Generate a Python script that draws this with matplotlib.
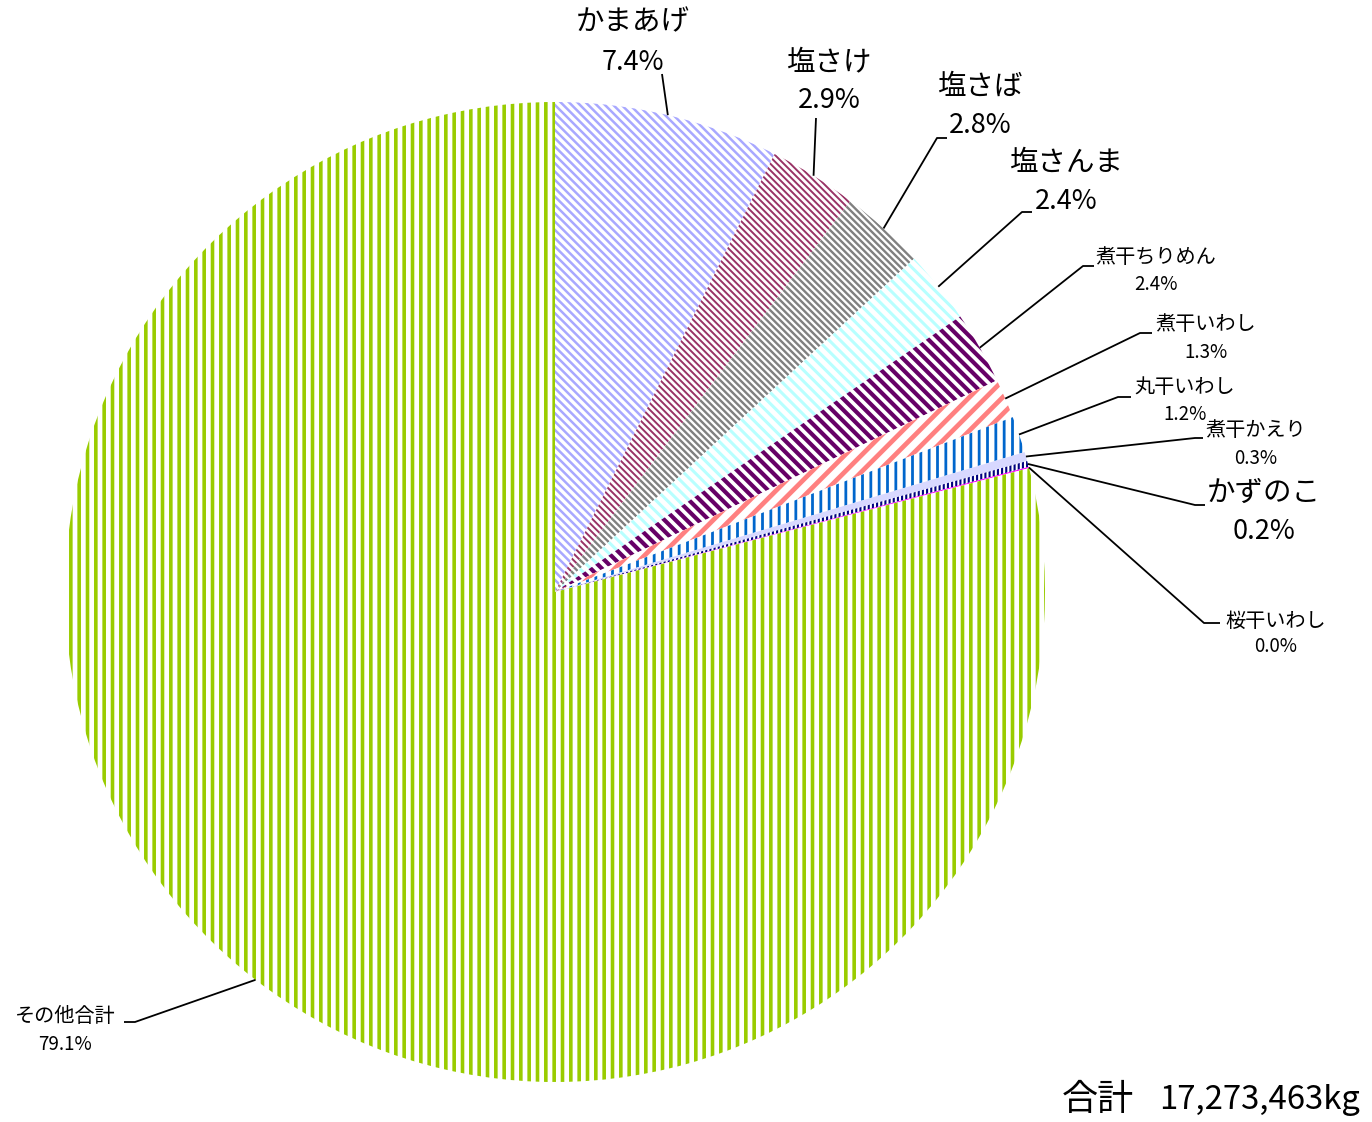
import math
import matplotlib.pyplot as plt

plt.rcParams['font.family'] = ['Noto Sans CJK JP', 'DejaVu Sans']

# データ（構成比 %）
names = ["かまあげ", "塩さけ", "塩さば", "塩さんま", "煮干ちりめん", "煮干いわし",
         "丸干いわし", "煮干かえり", "かずのこ", "桜干いわし", "その他合計"]
shares = [7.4, 2.9, 2.8, 2.4, 2.4, 1.3, 1.2, 0.3, 0.2, 0.04, 79.1]
total_kg = 17273463

colors = ["#A8A8FF", "#993366", "#808080", "#B8FFFF", "#660066", "#FF8080",
          "#0066CC", "#D8D8FF", "#000080", "#FF00FF", "#99CC00"]
hatches = ["\\" * 4, "\\" * 5, "\\" * 5, "\\" * 3, "\\" * 3, "//", "||", "", "||||", "", "||"]
hatch_lw = [1.8, 1.4, 1.7, 2.2, 3.0, 3.4, 2.0, 1.0, 1.5, 1.0, 2.6]

W, H = 1372, 1122
fig = plt.figure(figsize=(W / 100, H / 100), dpi=100)
ax = fig.add_axes([0, 0, 1, 1])

cx, cy, R = 555, H - 592, 490
wedges, _ = ax.pie(shares, startangle=90, counterclock=False, center=(cx, cy),
                   radius=R, frame=True)
ax.set_xlim(0, W)
ax.set_ylim(0, H)
ax.set_aspect("equal")
ax.axis("off")

for w, c, h, lw in zip(wedges, colors, hatches, hatch_lw):
    w.set_linewidth(0)
    if h:
        w.set_facecolor("white")
        w.set_edgecolor(c)
        w.set_hatch(h)
        if hasattr(w, "set_hatch_linewidth"):
            w.set_hatch_linewidth(lw)
    else:
        w.set_facecolor(c)
        w.set_edgecolor(c)

# ラベル配置（画素座標, y は上から）: 名前の中心, 比率の y, 引出線の折れ点, 文字サイズ
label_pos = [
    (633, 22, 62, [(662, 74)], 20.5),
    (829, 62, 100, [(816, 118)], 20.5),
    (980, 87, 125, [(937, 138), (947, 138)], 20.5),
    (1066, 163, 201, [(1022, 212), (1032, 212)], 20.5),
    (1156, 257, 284, [(1083, 266), (1094, 266)], 14.5),
    (1206, 324, 352, [(1140, 333), (1152, 333)], 14.5),
    (1185, 387, 414, [(1118, 397), (1131, 397)], 14.5),
    (1256, 430, 458, [(1195, 438), (1203, 438)], 14.5),
    (1264, 493, 531, [(1195, 505), (1205, 505)], 20.5),
    (1276, 621, 647, [(1204, 623), (1220, 623)], 14.5),
    (65, 1016, 1044, [(135, 1022), (124, 1022)], 14.5),
]

start = 90.0
tot = sum(shares)
for name, s, (tx, ty, py, pts, fs) in zip(names, shares, label_pos):
    ang = math.radians(start - s / tot * 360 / 2)
    start -= s / tot * 360
    x0 = cx + R * math.cos(ang)
    y0 = cy + R * math.sin(ang)
    xs = [x0] + [p[0] for p in pts]
    ys = [y0] + [H - p[1] for p in pts]
    ax.plot(xs, ys, color="black", lw=1.3, solid_capstyle="butt")
    ax.text(tx, H - ty, name, fontsize=fs, ha="center", va="center")
    ax.text(tx, H - py, f"{s:.1f}%", fontsize=19.5 if fs > 15 else 13.5,
            ha="center", va="center")

ax.text(1062, H - 1100, "合計", fontsize=26, ha="left", va="center")
ax.text(1360, H - 1100, f"{total_kg:,}kg", fontsize=23.7, ha="right", va="center")

fig.savefig("out.png", dpi=100)
